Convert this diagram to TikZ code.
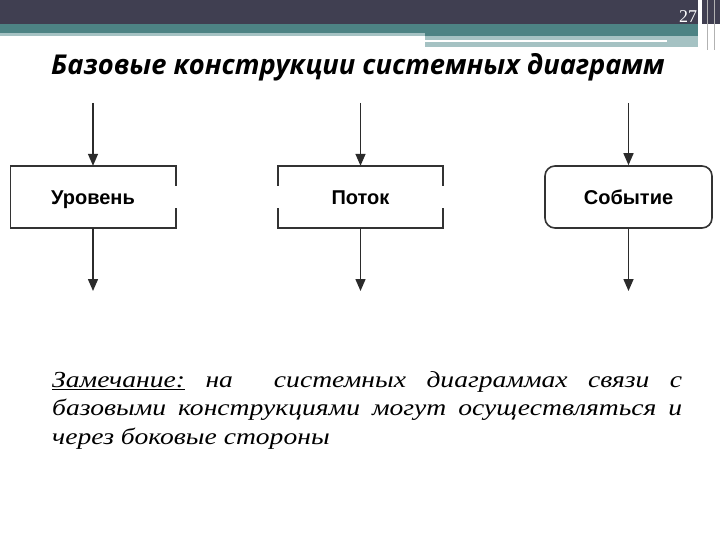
\documentclass[tikz,border=0pt]{standalone}
\usepackage{fontspec}
\setmainfont{Liberation Serif}
\newfontfamily\headfont{Open Sans}
\newfontfamily\labelfont{Liberation Sans}
\newfontfamily\notefont[FakeStretch=1.2]{Liberation Serif}
\usetikzlibrary{arrows.meta,calc,positioning}
\definecolor{Slate}{HTML}{403F51}
\definecolor{Teal}{HTML}{4D8384}
\definecolor{PaleTeal}{HTML}{A5C2C3}
\definecolor{Ink}{HTML}{2B2B2B}
\definecolor{Frame}{HTML}{333333}
\tikzset{
  block/.style={
    minimum width=165pt, minimum height=62pt, inner sep=0pt,
    text height=14.5pt, text depth=0pt,
    font=\labelfont\bfseries\fontsize{20}{22}\selectfont
  },
  eventblock/.style={
    block, draw=Frame, line width=1.6pt, rounded corners=10pt,
    minimum width=167pt
  },
  frame/.style={draw=Frame, line width=1.6pt},
  flow/.style={-{Triangle[length=12pt,width=10pt]}, line width=1.5pt, draw=Ink}
}
\begin{document}
\begin{tikzpicture}[x=1pt,y=-1pt]
  \useasboundingbox (0,0) rectangle (720,540);
  % header band
  \fill[Slate] (0,0) rectangle (720,24);
  \fill[Teal] (0,24) rectangle (700,33);
  \fill[PaleTeal] (0,33) rectangle (425,36);
  \fill[Teal] (425,33) rectangle (700,36);
  \fill[PaleTeal] (425,36) rectangle (700,47);
  \draw[white, line width=2pt] (425,41) -- (667,41);
  \fill[white] (698,0) rectangle (702,48);
  \draw[gray!60, line width=0.8pt] (707,0) -- (707,50);
  \draw[gray!60, line width=0.8pt] (714,0) -- (714,50);
  \node[text=white, anchor=base, font=\fontsize{18}{20}\selectfont] (pageno)
    at (688,23) {27};
  % title
  \node[anchor=base, font=\headfont\bfseries\itshape\fontsize{27.3}{30}\selectfont]
    (title) at (358,75) {Базовые конструкции системных диаграмм};

  % the three base constructs
  \node[block] (level) at (93,197) {Уровень};
  \node[block] (rate) at (360.5,197) {Поток};
  \node[eventblock] (event) at (628.5,197) {Событие};

  % level: gap on the right side
  \draw[frame] ($(level.north east)+(0,20)$) -- (level.north east)
    -- (level.north west) -- (level.south west) -- (level.south east)
    -- ++(0,-20);
  % rate: gaps on both sides
  \draw[frame] ($(rate.north west)+(0,20)$) -- (rate.north west)
    -- (rate.north east) -- ++(0,20);
  \draw[frame] ($(rate.south west)+(0,-20)$) -- (rate.south west)
    -- (rate.south east) -- ++(0,-20);

  \coordinate (levelin) at (93,103);
  \coordinate (levelout) at (93,291);
  \coordinate (ratein) at (360.5,103);
  \coordinate (rateout) at (360.5,291);
  \coordinate (eventin) at (628.5,103);
  \coordinate (eventout) at (628.5,291);
  \foreach \b in {level,rate,event}{
    \draw[flow] (\b in) -- (\b);
    \draw[flow] (\b) -- (\b out);
  }

  % remark
  \node[anchor=north west, inner sep=0pt, text width=630pt, align=justify,
    font=\notefont\itshape\fontsize{23}{28.5}\selectfont] (remark) at (52,371)
    {\underline{Замечание:} на\ \ системных диаграммах связи с\linebreak
     базовыми конструкциями могут осуществляться и\linebreak
     через боковые стороны};
\end{tikzpicture}
\end{document}
